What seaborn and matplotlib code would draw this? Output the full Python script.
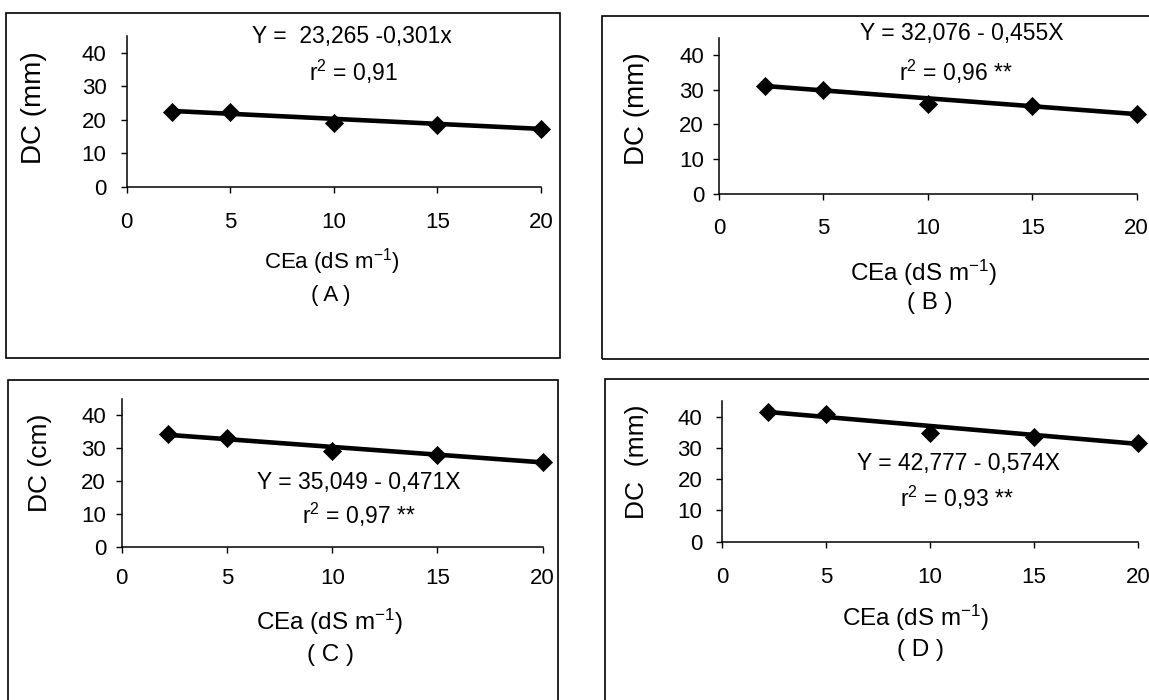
import matplotlib
matplotlib.use("Agg")
import matplotlib.pyplot as plt
from matplotlib.patches import Rectangle
import pandas as pd
import seaborn as sns

# Electrical conductivity of the irrigation water (dS m-1)
cea = [2.2, 5, 10, 15, 20]

# Measured DC for each trial
dc_a = [22.2, 22.4, 19.0, 18.3, 17.2]
dc_b = [31.0, 29.8, 25.9, 25.4, 22.9]
dc_c = [34.2, 33.2, 29.2, 27.9, 25.8]
dc_d = [41.6, 41.0, 34.7, 33.6, 31.7]

# Linear fits (intercept, slope)
fit_a = (23.265, -0.301)
fit_b = (32.076, -0.455)
fit_c = (35.049, -0.471)
fit_d = (42.777, -0.574)

eq_labels = ["Y =  23,265 -0,301x", "Y = 32,076 - 0,455X",
             "Y = 35,049 - 0,471X", "Y = 42,777 - 0,574X"]
r2_labels = ["r$^{2}$ = 0,91", "r$^{2}$ = 0,96 **",
             "r$^{2}$ = 0,97 **", "r$^{2}$ = 0,93 **"]
y_labels = ["DC (mm)", "DC (mm)", "DC (cm)", "DC  (mm)"]
x_label = "CEa (dS m$^{-1}$)"
tags = ["( A )", "( B )", "( C )", "( D )"]
x_ticks = [0, 5, 10, 15, 20]
y_ticks = [0, 10, 20, 30, 40]

sns.set_theme(style="white")
plt.rcParams["font.family"] = ["Liberation Sans", "DejaVu Sans"]
plt.rcParams["mathtext.fontset"] = "custom"
plt.rcParams["mathtext.rm"] = "Liberation Sans"
plt.rcParams["mathtext.it"] = "Liberation Sans"
plt.rcParams["mathtext.default"] = "regular"

W, H = 1149, 700
fig = plt.figure(figsize=(W / 100, H / 100), dpi=100)
fig.patch.set_facecolor("white")


def fx(px):
    return px / W


def fy(py):
    return 1 - py / H


# layout of each panel in pixels: axes box, frame, text anchors, tick pads
panels = [
    dict(data=dc_a, fit=fit_a, ax=(126.7, 541.0, 186.7, 35.9), frame=(6, 12.5, 560, 358.3),
         eq=(352, 36.7), r2=(353, 71.7), xl=(331.5, 261.7), tag=(331, 295), yl=(34, 108),
         xpad=14.3, ypad=10.5, xl_fs=16, yl_fs=20),
    dict(data=dc_b, fit=fit_b, ax=(719.0, 1136.7, 194.0, 37.6), frame=(602.3, 15.8, 1160, 359.3),
         eq=(961.6, 33.2), r2=(956, 71.7), xl=(924, 272.7), tag=(929.6, 302.9), yl=(637, 108.6),
         xpad=13.3, ypad=6.8, xl_fs=17.5, yl_fs=20),
    dict(data=dc_c, fit=fit_c, ax=(121.7, 542.7, 546.7, 398.7), frame=(8, 380, 558, 720),
         eq=(359.2, 483), r2=(359, 515), xl=(330, 621.7), tag=(330.7, 655), yl=(40.5, 463.3),
         xpad=11.5, ypad=7.3, xl_fs=17.5, yl_fs=19),
    dict(data=dc_d, fit=fit_d, ax=(722.3, 1138.0, 541.7, 401.1), frame=(604.8, 379.3, 1160, 720),
         eq=(958.3, 463.3), r2=(956.5, 498), xl=(916, 618), tag=(920.7, 650), yl=(637.3, 461.7),
         xpad=14.3, ypad=10.5, xl_fs=17.5, yl_fs=19),
]

for i, p in enumerate(panels):
    x0, x1, y0, y1 = p["ax"]
    ax = fig.add_axes([fx(x0), fy(y0), fx(x1) - fx(x0), fy(y1) - fy(y0)])
    ax.set_facecolor("none")

    df = pd.DataFrame({"CEa": cea, "DC": p["data"]})
    b0, b1 = p["fit"]
    line_x = [cea[0], cea[-1]]
    line_df = pd.DataFrame({"CEa": line_x, "DC": [b0 + b1 * v for v in line_x]})

    sns.lineplot(data=line_df, x="CEa", y="DC", ax=ax, color="black", linewidth=3.3, zorder=2)
    sns.scatterplot(data=df, x="CEa", y="DC", ax=ax, marker="D", s=85, color="black",
                    edgecolor="black", linewidth=0.5, zorder=3, clip_on=False)

    ax.set_xlim(0, 20)
    ax.set_ylim(0, 45)
    ax.set_xticks(x_ticks)
    ax.set_yticks(y_ticks)
    ax.set_xlabel("")
    ax.set_ylabel("")
    for side in ("top", "right"):
        ax.spines[side].set_visible(False)
    for side in ("left", "bottom"):
        ax.spines[side].set_color("black")
        ax.spines[side].set_linewidth(1.1)
    ax.tick_params(axis="both", direction="out", length=4, width=1, color="black",
                   labelcolor="black", labelsize=16)
    ax.tick_params(axis="x", pad=p["xpad"], bottom=True)
    ax.tick_params(axis="y", pad=p["ypad"], left=True)

    fig.text(fx(p["eq"][0]), fy(p["eq"][1]), eq_labels[i], ha="center", va="center",
             fontsize=16.5, color="black")
    fig.text(fx(p["r2"][0]), fy(p["r2"][1]), r2_labels[i], ha="center", va="center",
             fontsize=16.5, color="black")
    fig.text(fx(p["xl"][0]), fy(p["xl"][1]), x_label, ha="center", va="center",
             fontsize=p["xl_fs"], color="black")
    fig.text(fx(p["tag"][0]), fy(p["tag"][1]), tags[i], ha="center", va="center",
             fontsize=p["xl_fs"], color="black")
    fig.text(fx(p["yl"][0]), fy(p["yl"][1]), y_labels[i], ha="center", va="center",
             rotation=90, fontsize=p["yl_fs"], color="black")

    fl, ft, fr, fb = p["frame"]
    fig.add_artist(Rectangle((fx(fl), fy(fb)), fx(fr) - fx(fl), fy(ft) - fy(fb),
                             transform=fig.transFigure, fill=False, edgecolor="black",
                             linewidth=1.2, clip_on=False))

fig.savefig("out.png", dpi=100, facecolor="white")
